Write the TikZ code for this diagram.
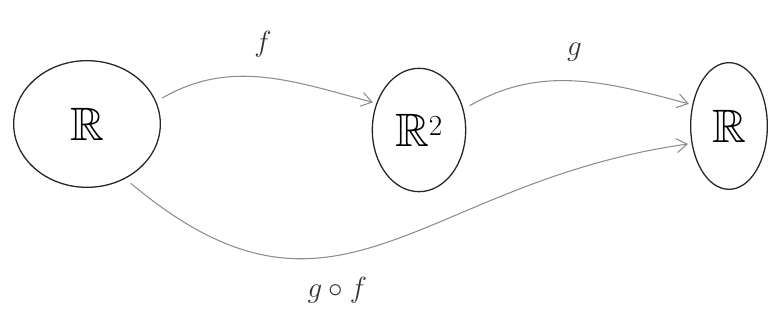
\documentclass[tikz,border=0pt]{standalone}
\usepackage{amsmath,amssymb}
\usepackage{tikz}
\usetikzlibrary{positioning,arrows.meta,shapes.geometric}

\begin{document}
\begin{tikzpicture}[
  space/.style={ellipse, draw=black!85, line width=1.1pt, inner sep=0pt, font=\fontsize{40}{44}\selectfont},
  arrow/.style={-{Straight Barb[length=9pt,width=12pt]}, draw=black!45, line width=0.9pt, shorten >=3pt, shorten <=6pt},
  lbl/.style={font=\fontsize{38}{42}\selectfont, text=black!80}
]
\useasboundingbox (0,0) rectangle (23.07,10.02);

\node[space, minimum width=4.4cm, minimum height=3.8cm] (dom) at (2.61,6.3) {$\mathbb{R}$};
\node[space, minimum width=2.8cm, minimum height=3.7cm] (plane) at (12.57,6.12) {$\mathbb{R}^2$};
\node[space, minimum width=2.3cm, minimum height=3.8cm] (cod) at (21.87,6.24) {$\mathbb{R}$};

\draw[arrow] (dom.18) to[out=30,in=165] node[lbl, above=14pt] {$f$} (plane.148);
\draw[arrow] (plane.25) to[out=30,in=165] node[lbl, above=14pt] {$g$} (cod.150);
\draw[arrow] (dom.-55) to[out=-40,in=188,looseness=1.25] node[lbl, below=16pt, pos=0.4] {$g\circ f$} (cod.205);
\end{tikzpicture}
\end{document}
